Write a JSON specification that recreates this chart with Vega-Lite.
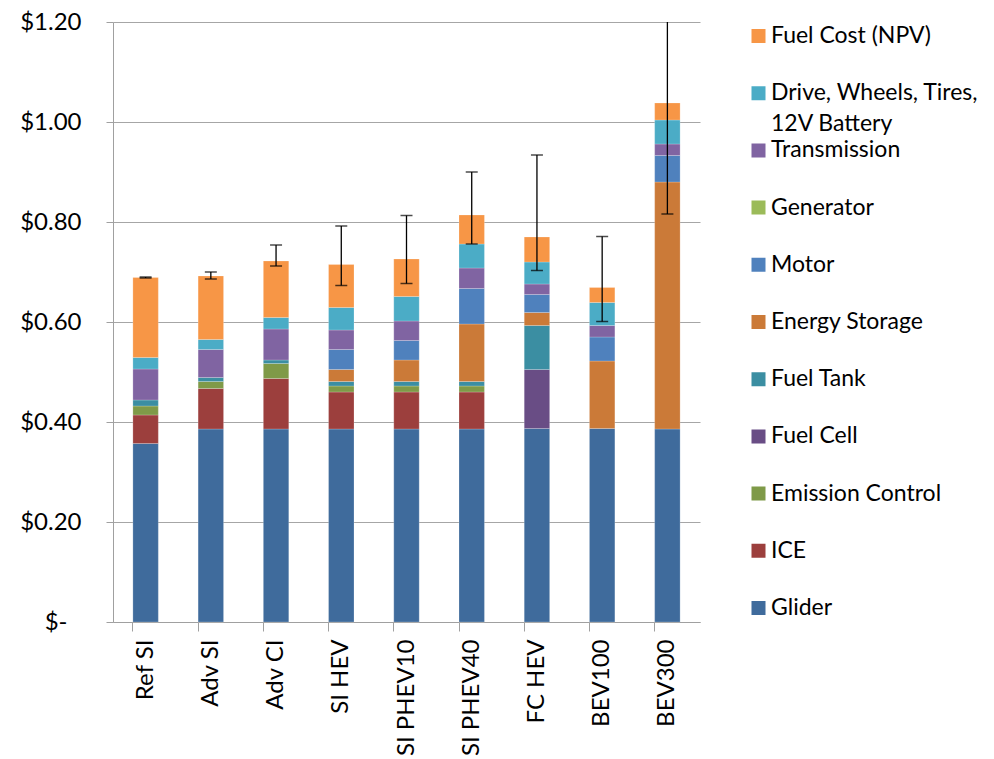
{
  "$schema": "https://vega.github.io/schema/vega-lite/v6.json",
  "width": 587,
  "height": 600,
  "autosize": {"type": "none"},
  "padding": {"left": 113, "top": 22, "right": 294, "bottom": 137},
  "background": "white",
  "config": {
    "view": {"stroke": null},
    "font": "Lato",
    "axis": {"labelFont": "Lato", "labelColor": "#000000"},
    "legend": {"labelFont": "Lato", "labelColor": "#000000"}
  },
  "datasets": {
    "costs": [
      {"vehicle": "Ref SI", "component": "Glider", "cost": 0.357},
      {"vehicle": "Ref SI", "component": "ICE", "cost": 0.057},
      {"vehicle": "Ref SI", "component": "Emission Control", "cost": 0.018},
      {"vehicle": "Ref SI", "component": "Fuel Tank", "cost": 0.012},
      {"vehicle": "Ref SI", "component": "Transmission", "cost": 0.062},
      {"vehicle": "Ref SI", "component": "Drive, Wheels, Tires, 12V Battery", "cost": 0.023},
      {"vehicle": "Ref SI", "component": "Fuel Cost (NPV)", "cost": 0.160},

      {"vehicle": "Adv SI", "component": "Glider", "cost": 0.386},
      {"vehicle": "Adv SI", "component": "ICE", "cost": 0.081},
      {"vehicle": "Adv SI", "component": "Emission Control", "cost": 0.014},
      {"vehicle": "Adv SI", "component": "Fuel Tank", "cost": 0.008},
      {"vehicle": "Adv SI", "component": "Transmission", "cost": 0.056},
      {"vehicle": "Adv SI", "component": "Drive, Wheels, Tires, 12V Battery", "cost": 0.020},
      {"vehicle": "Adv SI", "component": "Fuel Cost (NPV)", "cost": 0.127},

      {"vehicle": "Adv CI", "component": "Glider", "cost": 0.386},
      {"vehicle": "Adv CI", "component": "ICE", "cost": 0.101},
      {"vehicle": "Adv CI", "component": "Emission Control", "cost": 0.030},
      {"vehicle": "Adv CI", "component": "Fuel Tank", "cost": 0.007},
      {"vehicle": "Adv CI", "component": "Transmission", "cost": 0.062},
      {"vehicle": "Adv CI", "component": "Drive, Wheels, Tires, 12V Battery", "cost": 0.023},
      {"vehicle": "Adv CI", "component": "Fuel Cost (NPV)", "cost": 0.113},

      {"vehicle": "SI HEV", "component": "Glider", "cost": 0.386},
      {"vehicle": "SI HEV", "component": "ICE", "cost": 0.074},
      {"vehicle": "SI HEV", "component": "Emission Control", "cost": 0.012},
      {"vehicle": "SI HEV", "component": "Fuel Tank", "cost": 0.009},
      {"vehicle": "SI HEV", "component": "Energy Storage", "cost": 0.024},
      {"vehicle": "SI HEV", "component": "Motor", "cost": 0.040},
      {"vehicle": "SI HEV", "component": "Transmission", "cost": 0.039},
      {"vehicle": "SI HEV", "component": "Drive, Wheels, Tires, 12V Battery", "cost": 0.045},
      {"vehicle": "SI HEV", "component": "Fuel Cost (NPV)", "cost": 0.086},

      {"vehicle": "SI PHEV10", "component": "Glider", "cost": 0.386},
      {"vehicle": "SI PHEV10", "component": "ICE", "cost": 0.074},
      {"vehicle": "SI PHEV10", "component": "Emission Control", "cost": 0.012},
      {"vehicle": "SI PHEV10", "component": "Fuel Tank", "cost": 0.009},
      {"vehicle": "SI PHEV10", "component": "Energy Storage", "cost": 0.043},
      {"vehicle": "SI PHEV10", "component": "Motor", "cost": 0.039},
      {"vehicle": "SI PHEV10", "component": "Transmission", "cost": 0.039},
      {"vehicle": "SI PHEV10", "component": "Drive, Wheels, Tires, 12V Battery", "cost": 0.049},
      {"vehicle": "SI PHEV10", "component": "Fuel Cost (NPV)", "cost": 0.075},

      {"vehicle": "SI PHEV40", "component": "Glider", "cost": 0.386},
      {"vehicle": "SI PHEV40", "component": "ICE", "cost": 0.074},
      {"vehicle": "SI PHEV40", "component": "Emission Control", "cost": 0.012},
      {"vehicle": "SI PHEV40", "component": "Fuel Tank", "cost": 0.009},
      {"vehicle": "SI PHEV40", "component": "Energy Storage", "cost": 0.115},
      {"vehicle": "SI PHEV40", "component": "Motor", "cost": 0.071},
      {"vehicle": "SI PHEV40", "component": "Transmission", "cost": 0.041},
      {"vehicle": "SI PHEV40", "component": "Drive, Wheels, Tires, 12V Battery", "cost": 0.048},
      {"vehicle": "SI PHEV40", "component": "Fuel Cost (NPV)", "cost": 0.058},

      {"vehicle": "FC HEV", "component": "Glider", "cost": 0.387},
      {"vehicle": "FC HEV", "component": "Fuel Cell", "cost": 0.118},
      {"vehicle": "FC HEV", "component": "Fuel Tank", "cost": 0.088},
      {"vehicle": "FC HEV", "component": "Energy Storage", "cost": 0.026},
      {"vehicle": "FC HEV", "component": "Motor", "cost": 0.036},
      {"vehicle": "FC HEV", "component": "Transmission", "cost": 0.021},
      {"vehicle": "FC HEV", "component": "Drive, Wheels, Tires, 12V Battery", "cost": 0.044},
      {"vehicle": "FC HEV", "component": "Fuel Cost (NPV)", "cost": 0.050},

      {"vehicle": "BEV100", "component": "Glider", "cost": 0.387},
      {"vehicle": "BEV100", "component": "Energy Storage", "cost": 0.135},
      {"vehicle": "BEV100", "component": "Motor", "cost": 0.048},
      {"vehicle": "BEV100", "component": "Transmission", "cost": 0.023},
      {"vehicle": "BEV100", "component": "Drive, Wheels, Tires, 12V Battery", "cost": 0.046},
      {"vehicle": "BEV100", "component": "Fuel Cost (NPV)", "cost": 0.030},

      {"vehicle": "BEV300", "component": "Glider", "cost": 0.386},
      {"vehicle": "BEV300", "component": "Energy Storage", "cost": 0.494},
      {"vehicle": "BEV300", "component": "Motor", "cost": 0.053},
      {"vehicle": "BEV300", "component": "Transmission", "cost": 0.023},
      {"vehicle": "BEV300", "component": "Drive, Wheels, Tires, 12V Battery", "cost": 0.048},
      {"vehicle": "BEV300", "component": "Fuel Cost (NPV)", "cost": 0.034}
    ],
    "errors": [
      {"vehicle": "Ref SI", "low": 0.688, "high": 0.690},
      {"vehicle": "Adv SI", "low": 0.686, "high": 0.700},
      {"vehicle": "Adv CI", "low": 0.712, "high": 0.754},
      {"vehicle": "SI HEV", "low": 0.673, "high": 0.792},
      {"vehicle": "SI PHEV10", "low": 0.677, "high": 0.813},
      {"vehicle": "SI PHEV40", "low": 0.756, "high": 0.900},
      {"vehicle": "FC HEV", "low": 0.703, "high": 0.934},
      {"vehicle": "BEV100", "low": 0.601, "high": 0.771},
      {"vehicle": "BEV300", "low": 0.816, "high": 1.26}
    ]
  },
  "resolve": {"axis": {"x": "independent"}},
  "layer": [
    {
      "data": {"name": "costs"},
      "transform": [
        {"calculate": "indexof(['Fuel Cost (NPV)','Drive, Wheels, Tires, 12V Battery','Transmission','Generator','Motor','Energy Storage','Fuel Tank','Fuel Cell','Emission Control','ICE','Glider'], datum.component)", "as": "k"}
      ],
      "mark": {"type": "bar", "stroke": "#ffffff", "strokeOpacity": 0.35, "strokeWidth": 0.6},
      "encoding": {
        "x": {
          "field": "vehicle", "type": "nominal",
          "sort": ["Ref SI","Adv SI","Adv CI","SI HEV","SI PHEV10","SI PHEV40","FC HEV","BEV100","BEV300"],
          "scale": {"paddingInner": 0.61, "paddingOuter": 0.305},
          "axis": {
            "orient": "bottom",
            "title": null, "labels": false, "bandPosition": 0, "ticks": true, "tickSize": 9,
            "tickColor": "#A0A0A0", "domainColor": "#A0A0A0", "grid": false
          }
        },
        "y": {
          "field": "cost", "type": "quantitative", "stack": "zero",
          "scale": {"domain": [0, 1.2], "nice": false},
          "axis": {
            "orient": "left",
            "title": null, "values": [0, 0.2, 0.4, 0.6, 0.8, 1.0, 1.2],
            "labelExpr": "datum.value == 0 ? '$-' : '$' + format(datum.value, '.2f')",
            "labelFontSize": 24, "labelPadding": 25, "tickSize": 7, "domain": true,
            "tickColor": "#A0A0A0", "domainColor": "#A0A0A0",
            "gridColor": "#A6A6A6", "gridWidth": 1.2,
            "encoding": {"labels": {"dx": {"value": {"expr": "datum.value == 0 ? -14 : 0"}}}}
          }
        },
        "color": {
          "field": "component", "type": "nominal",
          "scale": {
            "domain": ["Fuel Cost (NPV)","Drive, Wheels, Tires, 12V Battery","Transmission","Generator","Motor","Energy Storage","Fuel Tank","Fuel Cell","Emission Control","ICE","Glider"],
            "range": ["#F79646","#4BACC6","#8064A2","#9BBB59","#4F81BD","#CB7A38","#3B8EA2","#694D85","#7F9A48","#9C3F3D","#3F6B9C"]
          },
          "legend": {
            "title": null, "orient": "none", "legendX": 634, "legendY": 4,
            "symbolType": "square", "symbolSize": 196, "symbolStrokeWidth": 0,
            "labelFontSize": 23, "labelOffset": 1, "clipHeight": 20, "rowPadding": 3.2,
            "gridAlign": "all",
            "padding": 0, "labelLimit": 300, "labelBaseline": "middle",
            "labelExpr": "datum.label == 'Drive, Wheels, Tires, 12V Battery' ? ['Drive, Wheels, Tires,', '12V Battery'] : datum.label",
            "encoding": {"labels": {"lineHeight": {"value": 31}}}
          }
        },
        "order": {"field": "k", "type": "quantitative", "sort": "descending"}
      }
    },
    {
      "data": {"name": "errors"},
      "mark": {"type": "rule", "color": "#000000", "strokeWidth": 1.3, "clip": true},
      "encoding": {
        "x": {
          "field": "vehicle", "type": "nominal",
          "sort": ["Ref SI","Adv SI","Adv CI","SI HEV","SI PHEV10","SI PHEV40","FC HEV","BEV100","BEV300"],
          "axis": {
            "orient": "bottom",
            "title": null, "labels": true, "ticks": false, "domain": false, "grid": false,
            "labelAngle": -90, "labelAlign": "right", "labelBaseline": "middle",
            "labelFontSize": 24, "labelPadding": 17
          }
        },
        "y": {"field": "low", "type": "quantitative"},
        "y2": {"field": "high"}
      }
    },
    {
      "data": {"name": "errors"},
      "mark": {"type": "tick", "color": "#000000", "thickness": 1.5, "size": 12, "clip": true, "orient": "horizontal"},
      "encoding": {
        "x": {"field": "vehicle", "type": "nominal", "sort": ["Ref SI","Adv SI","Adv CI","SI HEV","SI PHEV10","SI PHEV40","FC HEV","BEV100","BEV300"], "axis": null},
        "y": {"field": "low", "type": "quantitative"}
      }
    },
    {
      "data": {"name": "errors"},
      "mark": {"type": "tick", "color": "#000000", "thickness": 1.5, "size": 12, "clip": true, "orient": "horizontal"},
      "encoding": {
        "x": {"field": "vehicle", "type": "nominal", "sort": ["Ref SI","Adv SI","Adv CI","SI HEV","SI PHEV10","SI PHEV40","FC HEV","BEV100","BEV300"], "axis": null},
        "y": {"field": "high", "type": "quantitative"}
      }
    }
  ]
}
